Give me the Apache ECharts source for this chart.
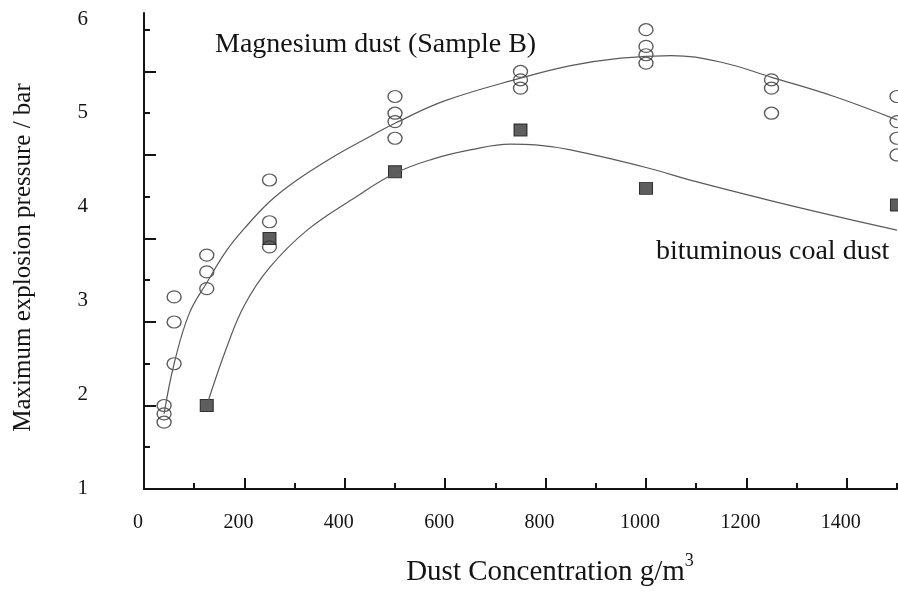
<!DOCTYPE html>
<html>
<head>
<meta charset="utf-8">
<script src="https://cdn.jsdelivr.net/npm/echarts@6/dist/echarts.min.js"></script>
<style>
  html, body { margin: 0; padding: 0; background: #ffffff; }
  #chart { width: 898px; height: 594px; }
</style>
</head>
<body>
<div id="chart"></div>
<script>
// Magnesium dust (Sample B): individual test runs, concentration (g/m3) and Pmax (bar)
const mgConcentration = [40, 40, 40, 60, 60, 60, 125, 125, 125, 250, 250, 250,
  500, 500, 500, 500, 750, 750, 750, 1000, 1000, 1000, 1000,
  1250, 1250, 1250, 1500, 1500, 1500, 1500];
const mgPressure = [2.0, 1.9, 1.8, 3.3, 3.0, 2.5, 3.8, 3.6, 3.4, 4.7, 4.2, 3.9,
  5.7, 5.5, 5.4, 5.2, 6.0, 5.9, 5.8, 6.5, 6.3, 6.2, 6.1,
  5.9, 5.8, 5.5, 5.7, 5.4, 5.2, 5.0];

// Bituminous coal dust
const coalConcentration = [125, 250, 500, 750, 1000, 1500];
const coalPressure = [2.0, 4.0, 4.8, 5.3, 4.6, 4.4];

// Trend curves drawn through each data set
const mgFitConcentration = [40, 60, 90, 125, 165, 200, 250, 300, 375, 450, 500, 600,
  750, 850, 950, 1050, 1150, 1250, 1375, 1500];
const mgFitPressure = [1.9, 2.5, 3.1, 3.47, 3.86, 4.12, 4.44, 4.68, 4.97, 5.22, 5.38, 5.65,
  5.92, 6.07, 6.16, 6.19, 6.11, 5.93, 5.70, 5.42];
const coalFitConcentration = [125, 165, 200, 250, 325, 415, 500, 575, 650, 730, 780, 850,
  1000, 1100, 1250, 1375, 1500];
const coalFitPressure = [2.0, 2.7, 3.2, 3.65, 4.1, 4.47, 4.78, 4.95, 5.06, 5.13, 5.12, 5.06,
  4.85, 4.68, 4.45, 4.27, 4.10];

// Axis ticks and tick labels
const xMajorTicks = [0, 200, 400, 600, 800, 1000, 1200, 1400];
const xMinorTicks = [100, 300, 500, 700, 900, 1100, 1300, 1500];
const yMajorTicks = [1, 2, 3, 4, 5, 6];
const yMinorTicks = [1.5, 2.5, 3.5, 4.5, 5.5, 6.5];
const yTickLabels = [1, 2, 3, 4, 5, 6];

const SERIF = '"Liberation Serif", "Times New Roman", Times, serif';
const INK = '#141414';

function pairs(xs, ys) {
  return xs.map((x, i) => [x, ys[i]]);
}

const chart = echarts.init(document.getElementById('chart'), null, { renderer: 'canvas' });

chart.setOption({
  backgroundColor: '#ffffff',
  animation: false,
  grid: { left: 144, right: 1, top: 13, bottom: 105, containLabel: false },
  xAxis: [
    {
      type: 'value', min: 0, max: 1500, position: 'bottom',
      axisLine: { show: true, lineStyle: { color: INK, width: 2 } },
      axisTick: { show: true, inside: true, length: 11, customValues: xMajorTicks,
        lineStyle: { color: INK, width: 2 } },
      axisLabel: { show: true, customValues: xMajorTicks, margin: 24, padding: [0, 12, 0, 0],
        formatter: (v) => String(v),
        fontFamily: SERIF, fontSize: 20, color: INK },
      splitLine: { show: false },
      name: '{main|Dust Concentration g/m}{sup|3}',
      nameLocation: 'middle',
      nameGap: 63,
      nameTextStyle: {
        fontFamily: SERIF, fontSize: 29, color: INK, padding: [0, 0, 0, 59],
        rich: {
          main: { fontFamily: SERIF, fontSize: 29, color: INK, lineHeight: 40 },
          sup: { fontFamily: SERIF, fontSize: 18, color: INK, lineHeight: 18, verticalAlign: 'top' }
        }
      }
    },
    {
      type: 'value', min: 0, max: 1500, position: 'bottom',
      axisLine: { show: false },
      axisTick: { show: true, inside: true, length: 6, customValues: xMinorTicks,
        lineStyle: { color: INK, width: 2 } },
      axisLabel: { show: false },
      splitLine: { show: false }
    }
  ],
  yAxis: [
    {
      type: 'value', min: 1, max: 6.7, position: 'left',
      axisLine: { show: true, lineStyle: { color: INK, width: 2 } },
      axisTick: { show: true, inside: true, length: 12, customValues: yMajorTicks,
        lineStyle: { color: INK, width: 2 } },
      axisLabel: { show: false },
      splitLine: { show: false },
      name: 'Maximum explosion pressure / bar',
      nameLocation: 'middle',
      nameGap: 108,
      nameTextStyle: { fontFamily: SERIF, fontSize: 25, color: INK, padding: [0, 13, 0, 0] }
    },
    {
      type: 'value', min: 1, max: 6.7, position: 'left',
      axisLine: { show: false },
      axisTick: { show: true, inside: true, length: 6, customValues: yMinorTicks,
        lineStyle: { color: INK, width: 2 } },
      axisLabel: { show: false },
      splitLine: { show: false }
    },
    {
      // pressure labels column
      type: 'value', min: 0.99, max: 6.064, position: 'left',
      axisLine: { show: false },
      axisTick: { show: false },
      axisLabel: { show: true, customValues: yTickLabels, margin: 56,
        showMinLabel: true, showMaxLabel: true,
        fontFamily: SERIF, fontSize: 21, color: INK },
      splitLine: { show: false }
    }
  ],
  series: [
    {
      name: 'Magnesium dust fit', type: 'line', xAxisIndex: 0, yAxisIndex: 0,
      data: pairs(mgFitConcentration, mgFitPressure),
      smooth: 0.4, showSymbol: false, silent: true,
      lineStyle: { color: '#5a5a5a', width: 1.2 }
    },
    {
      name: 'Bituminous coal dust fit', type: 'line', xAxisIndex: 0, yAxisIndex: 0,
      data: pairs(coalFitConcentration, coalFitPressure),
      smooth: 0.4, showSymbol: false, silent: true,
      lineStyle: { color: '#5a5a5a', width: 1.2 }
    },
    {
      name: 'Magnesium dust (Sample B)', type: 'scatter', xAxisIndex: 0, yAxisIndex: 0,
      data: pairs(mgConcentration, mgPressure),
      symbol: 'circle', symbolSize: [14, 12], clip: false,
      itemStyle: { color: 'rgba(255,255,255,0)', borderColor: '#333333', borderWidth: 1.3 }
    },
    {
      name: 'bituminous coal dust', type: 'scatter', xAxisIndex: 0, yAxisIndex: 0,
      data: pairs(coalConcentration, coalPressure),
      symbol: 'rect', symbolSize: [13, 12], clip: false,
      itemStyle: { color: '#363636', borderColor: '#111111', borderWidth: 1 }
    }
  ],
  graphic: [
    {
      type: 'text', x: 215, y: 45,
      style: { text: 'Magnesium dust (Sample B)', fontFamily: SERIF, fontSize: 28,
        fill: INK, align: 'left', verticalAlign: 'middle' }
    },
    {
      type: 'text', x: 656, y: 252,
      style: { text: 'bituminous coal dust', fontFamily: SERIF, fontSize: 28,
        fill: INK, align: 'left', verticalAlign: 'middle' }
    }
  ]
});
</script>
</body>
</html>
